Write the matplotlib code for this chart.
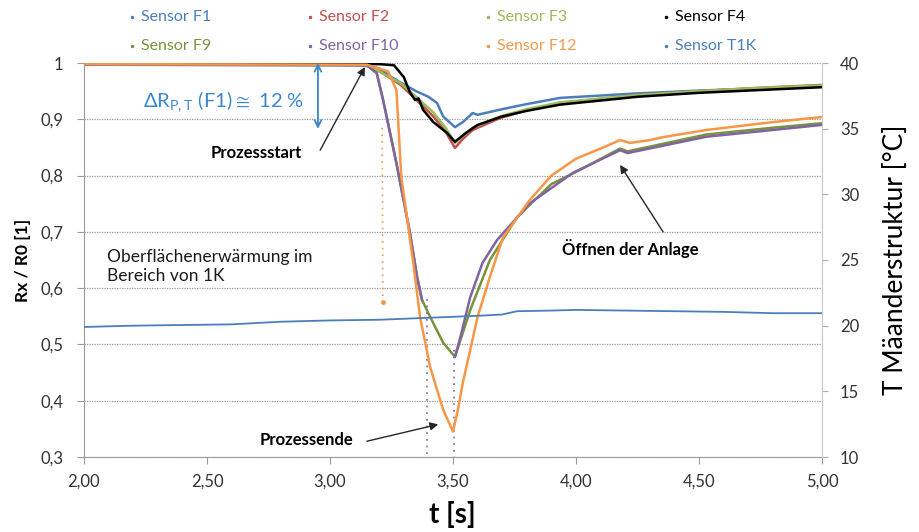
import numpy as np
import matplotlib.pyplot as plt
from matplotlib.lines import Line2D
from matplotlib.ticker import FuncFormatter, MultipleLocator

plt.rcParams['font.family'] = ['Lato', 'DejaVu Sans']
plt.rcParams['mathtext.fontset'] = 'custom'
plt.rcParams['mathtext.rm'] = 'Lato'
plt.rcParams['mathtext.default'] = 'regular'

# --- data: time [s] / Rx/R0 [1] ---
t_f1 = [2.0, 3.0, 3.15, 3.2, 3.25, 3.3, 3.35, 3.4, 3.435, 3.46, 3.508, 3.54, 3.58, 3.6, 3.7, 3.8, 3.935, 4.25, 4.5, 4.75, 5.0]
r_f1 = [0.997, 0.997, 0.996, 0.99, 0.975, 0.962, 0.95, 0.94, 0.929, 0.905, 0.886, 0.895, 0.911, 0.908, 0.918, 0.927, 0.938, 0.946, 0.951, 0.955, 0.958]

t_f2 = [2.0, 3.12, 3.17, 3.22, 3.285, 3.35, 3.42, 3.47, 3.508, 3.54, 3.58, 3.69, 3.8, 3.935, 4.25, 4.5, 4.75, 5.0]
r_f2 = [0.997, 0.997, 0.993, 0.98, 0.962, 0.935, 0.905, 0.878, 0.849, 0.865, 0.881, 0.902, 0.916, 0.929, 0.943, 0.95, 0.956, 0.961]

t_f3 = [2.0, 3.12, 3.17, 3.22, 3.285, 3.35, 3.42, 3.47, 3.508, 3.54, 3.58, 3.69, 3.8, 3.935, 4.25, 4.5, 4.75, 5.0]
r_f3 = [0.997, 0.997, 0.993, 0.98, 0.965, 0.94, 0.912, 0.885, 0.858, 0.87, 0.885, 0.905, 0.918, 0.93, 0.943, 0.95, 0.956, 0.96]

t_f4 = [2.0, 3.2, 3.26, 3.3, 3.31, 3.326, 3.346, 3.36, 3.378, 3.42, 3.475, 3.508, 3.55, 3.6, 3.7, 3.8, 3.935, 4.25, 4.5, 4.75, 5.0]
r_f4 = [0.998, 0.998, 0.996, 0.975, 0.964, 0.947, 0.934, 0.937, 0.917, 0.895, 0.876, 0.86, 0.875, 0.89, 0.905, 0.915, 0.926, 0.94, 0.947, 0.952, 0.957]

t_f9 = [2.0, 3.15, 3.19, 3.216, 3.244, 3.27, 3.325, 3.354, 3.374, 3.407, 3.46, 3.508, 3.57, 3.65, 3.76, 3.9, 4.016, 4.179, 4.21, 4.53, 4.8, 5.0]
r_f9 = [0.997, 0.996, 0.982, 0.934, 0.876, 0.822, 0.698, 0.62, 0.579, 0.549, 0.503, 0.478, 0.561, 0.65, 0.726, 0.785, 0.81, 0.848, 0.843, 0.873, 0.885, 0.893]

t_f10 = [2.0, 3.15, 3.19, 3.216, 3.244, 3.27, 3.325, 3.354, 3.374, 3.44, 3.508, 3.53, 3.57, 3.62, 3.68, 3.813, 3.988, 4.179, 4.21, 4.53, 4.8, 5.0]
r_f10 = [0.997, 0.996, 0.982, 0.934, 0.876, 0.822, 0.698, 0.62, 0.579, np.nan, 0.478, 0.513, 0.584, 0.645, 0.686, 0.751, 0.805, 0.845, 0.84, 0.869, 0.881, 0.89]

t_f12 = [2.0, 3.15, 3.236, 3.27, 3.29, 3.337, 3.366, 3.407, 3.46, 3.5, 3.52, 3.54, 3.6, 3.65, 3.703, 3.813, 3.9, 4.0, 4.1, 4.179, 4.22, 4.3, 4.35, 4.53, 4.8, 5.0]
r_f12 = [0.998, 0.997, 0.985, 0.952, 0.797, 0.65, 0.549, 0.46, 0.384, 0.345, 0.384, 0.432, 0.549, 0.62, 0.69, 0.757, 0.8, 0.83, 0.848, 0.863, 0.858, 0.863, 0.868, 0.881, 0.895, 0.904]

# sparse samples where the signal jumped (show as dotted runs)
t_f10_jump1 = [3.394, 3.394]
r_f10_jump1 = [0.58, 0.3]
t_f10_jump2 = [3.504, 3.504]
r_f10_jump2 = [0.49, 0.3]
t_f12_jump = [3.212, 3.215]
r_f12_jump = [0.885, 0.575]

# temperature sensor, right axis [°C]
t_t1k = [2.0, 2.2, 2.4, 2.6, 2.8, 3.0, 3.2, 3.4, 3.6, 3.7, 3.76, 3.9, 4.0, 4.2, 4.4, 4.6, 4.8, 5.0]
temp_t1k = [19.9, 20.0, 20.05, 20.1, 20.3, 20.4, 20.45, 20.6, 20.75, 20.85, 21.1, 21.15, 21.2, 21.15, 21.1, 21.05, 20.95, 20.95]

labels = ['Sensor F1', 'Sensor F2', 'Sensor F3', 'Sensor F4',
          'Sensor F9', 'Sensor F10', 'Sensor F12', 'Sensor T1K']
colors = ['#4A7EBB', '#C0504D', '#9BBB59', '#000000',
          '#77933C', '#8064A2', '#F79646', '#4A7EBB']

fig = plt.figure(figsize=(9.2, 5.32), dpi=100)
ax = fig.add_axes([84/920, 1-457/532, 738/920, 394/532])
ax2 = ax.twinx()

lw = 1.8
ax.plot(t_f1, r_f1, color=colors[0], lw=lw)
ax.plot(t_f2, r_f2, color=colors[1], lw=lw)
ax.plot(t_f3, r_f3, color=colors[2], lw=lw)
ax.plot(t_f4, r_f4, color=colors[3], lw=lw)
ax.plot(t_f9, r_f9, color=colors[4], lw=lw)
ax.plot(t_f10, r_f10, color=colors[5], lw=lw)
ax.plot(t_f10_jump1, r_f10_jump1, color=colors[5], lw=1.2, ls=(0, (1, 3)))
ax.plot(t_f10_jump2, r_f10_jump2, color=colors[5], lw=1.2, ls=(0, (1, 3)))
ax.plot(t_f12, r_f12, color=colors[6], lw=lw)
ax.plot(t_f12_jump, r_f12_jump, color=colors[6], lw=1.2, ls=(0, (1, 3)))
ax.plot(t_f12_jump[-1], r_f12_jump[-1], 'o', color=colors[6], ms=2.5)
ax2.plot(t_t1k, temp_t1k, color=colors[7], lw=1.3)

ax.set_xlim(2, 5)
ax.set_ylim(0.3, 1.0)
ax2.set_ylim(10, 40)

ax.xaxis.set_major_locator(MultipleLocator(0.5))
ax.yaxis.set_major_locator(MultipleLocator(0.1))
ax2.yaxis.set_major_locator(MultipleLocator(5))
ax.xaxis.set_major_formatter(FuncFormatter(lambda v, p: f'{v:.2f}'.replace('.', ',')))
ax.yaxis.set_major_formatter(FuncFormatter(lambda v, p: '1' if abs(v - 1) < 1e-9 else f'{v:.1f}'.replace('.', ',')))
ax2.yaxis.set_major_formatter(FuncFormatter(lambda v, p: f'{v:.0f}'))

ax.yaxis.grid(True, color='#9a9a9a', linestyle=(0, (1, 1)), linewidth=0.9)
ax.set_axisbelow(True)
for a in (ax, ax2):
    a.spines['top'].set_visible(False)
ax.spines['left'].set_linestyle((0, (1, 1)))
ax.spines['left'].set_color('#9a9a9a')
ax.spines['bottom'].set_linestyle((0, (1, 1)))
ax.spines['bottom'].set_color('#9a9a9a')
ax2.spines['left'].set_visible(False)
ax2.spines['bottom'].set_visible(False)
ax2.spines['right'].set_color('#c8c8c8')
ax.spines['right'].set_visible(False)

ax.tick_params(axis='both', colors='#9a9a9a', labelcolor='#333333', labelsize=12, length=5)
ax.tick_params(axis='y', pad=10)
ax.tick_params(axis='x', pad=7)
ax2.tick_params(axis='y', colors='#b0b0b0', labelcolor='#333333', labelsize=12, length=4, pad=9)

ax.set_ylabel('Rx / R0 [1]', fontsize=12.5, fontweight='bold')
ax.yaxis.set_label_coords(-0.072, 0.5)
ax.set_xlabel('t [s]', fontsize=20, fontweight='bold')
ax.xaxis.set_label_coords(0.4986, -0.112)
ax2.set_ylabel('T Mäanderstruktur [°C]', fontsize=19)
ax2.yaxis.set_label_coords(1.082, 0.5)

# annotations
ax.annotate('', xy=(2.951, 1.0), xytext=(2.951, 0.883),
            arrowprops=dict(arrowstyle='<->', color='#3A87CF', lw=1.3,
                            shrinkA=0, shrinkB=0, mutation_scale=12))
ax.text(2.24, 0.931, r'$\Delta$R$_{P,T}$ (F1)$\cong$ 12 %', color='#3A87CF',
        fontsize=14.5, va='center', ha='left')

arrow = dict(arrowstyle='-|>', color='#262626', lw=1.0, mutation_scale=12,
             shrinkA=0, shrinkB=0)
ax.annotate('', xy=(3.142, 0.993), xytext=(2.96, 0.845), arrowprops=arrow)
ax.text(2.70, 0.84, 'Prozessstart', fontsize=12, fontweight='bold', ha='center', va='center')
ax.annotate('', xy=(3.44, 0.358), xytext=(3.15, 0.328), arrowprops=arrow)
ax.text(2.905, 0.33, 'Prozessende', fontsize=12, fontweight='bold', ha='center', va='center')
ax.annotate('', xy=(4.179, 0.819), xytext=(4.354, 0.70), arrowprops=arrow)
ax.text(4.22, 0.671, 'Öffnen der Anlage', fontsize=12, fontweight='bold', ha='center', va='center')
ax.text(2.093, 0.638, 'Oberflächenerwärmung im\nBereich von 1K', fontsize=12.5,
        ha='left', va='center', linespacing=1.2, color='#1a1a1a')

# legend: two rows of four, text in series colour, evenly spaced like the original
for i, (lab, c) in enumerate(zip(labels, colors)):
    col, row = i % 4, i // 4
    x = (132 + col * 178) / 920
    y = 1 - (17 + row * 29) / 532
    fig.add_artist(Line2D([x], [y], transform=fig.transFigure, color=c,
                          marker='.', ms=3, ls='none'))
    fig.text(x + 9/920, y, lab, color=c, fontsize=11.5, va='center', ha='left')

fig.savefig('out.png', dpi=100)
